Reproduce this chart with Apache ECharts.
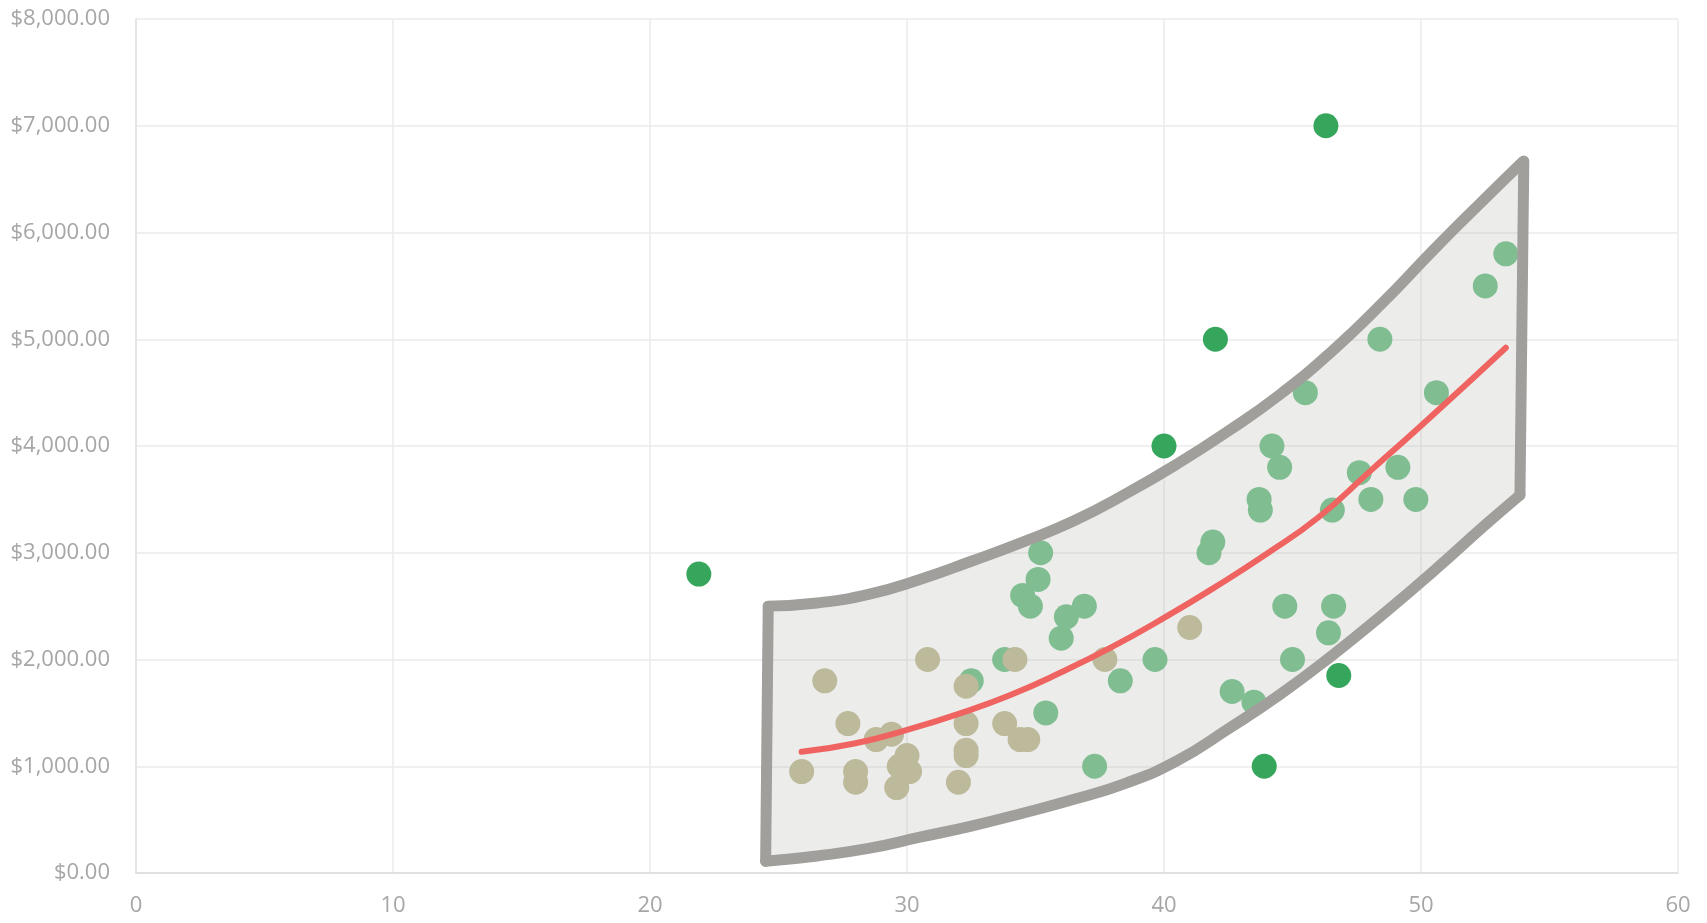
<!DOCTYPE html>
<html>
<head>
<meta charset="utf-8">
<script src="https://cdn.jsdelivr.net/npm/echarts@6/dist/echarts.min.js"></script>
<style>
html,body{margin:0;padding:0;background:#fff;}
#chart{width:1707px;height:923px;}
</style>
</head>
<body>
<div id="chart"></div>
<script>
// ---- data ----
const xTicks = [0, 10, 20, 30, 40, 50, 60];
const yTicks = [0, 1000, 2000, 3000, 4000, 5000, 6000, 7000, 8000];

const tanPoints = [
  [25.9,950],[26.8,1800],[27.7,1400],[28.0,950],[28.0,850],[28.8,1250],[29.4,1300],
  [30.0,1100],[29.7,1000],[30.1,950],[29.6,800],[30.8,2000],[32.0,850],[32.3,1750],
  [32.3,1400],[32.3,1150],[32.3,1100],[33.8,1400],[34.2,2000],[34.4,1250],[34.7,1250],
  [37.7,2000],[41.0,2300]
];
const lightGreenPoints = [
  [32.5,1800],[33.8,2000],[35.4,1500],[36.0,2200],[36.2,2400],[36.9,2500],[34.8,2500],
  [34.5,2600],[35.1,2750],[35.2,3000],[38.3,1800],[39.65,2000],[37.3,1000],[41.75,3000],
  [41.9,3100],[43.7,3500],[43.75,3400],[44.2,4000],[44.5,3800],[45.5,4500],[46.55,3400],
  [47.6,3750],[48.05,3500],[49.1,3800],[48.4,5000],[49.8,3500],[50.6,4500],[52.5,5500],
  [53.3,5800],[44.7,2500],[46.6,2500],[46.4,2250],[45.0,2000],[42.65,1700],[43.5,1600]
];
const darkGreenPoints = [
  [21.9,2800],[40.0,4000],[42.0,5000],[46.3,7000],[43.9,1000],[46.8,1850]
];
const trendLine = [
  [25.9,1135],[28,1215],[30,1340],[32,1490],[34,1665],[36,1880],[38,2120],[40,2390],
  [42,2680],[44,2990],[46,3330],[48,3760],[50,4190],[52,4630],[53.3,4920]
];
const upperBand = [
  [24.6,2500],[26.5,2530],[28.5,2610],[30.5,2750],[32.5,2920],[34.5,3100],[36.5,3300],
  [38.5,3550],[40.5,3830],[42.5,4140],[44.5,4480],[46.5,4880],[48.5,5340],[50.5,5840],
  [52.5,6320],[53.95,6660]
];
const rightEdge = [[54.0,6670],[53.85,3540]];
const lowerBand = [
  [24.5,110],[26.5,160],[28.5,230],[30.5,335],[32.5,440],[34.5,560],[36.5,690],
  [38.5,840],[40.5,1050],[42.5,1350],[44.5,1670],[46.5,2030],[48.5,2420],[50.5,2830],
  [52.5,3260],[53.85,3540]
];
const leftEdge = [[24.6,2500],[24.5,110]];

// ---- chart ----
const chart = echarts.init(document.getElementById('chart'));
const labelFont = { color:'#a6a6a6', fontSize:22, fontFamily:'Open Sans' };
const borderColor = '#a19f9b';

function fmtMoney(v){
  return '$' + v.toLocaleString('en-US',{minimumFractionDigits:2, maximumFractionDigits:2});
}

const option = {
  animation:false,
  grid:{ left:136, right:29, top:19, bottom:50 },
  xAxis:{
    type:'value', min:xTicks[0], max:xTicks[xTicks.length-1], interval:10,
    axisLine:{ show:true, lineStyle:{ color:'#dcdcdc', width:1.5 } },
    axisTick:{ show:false },
    splitLine:{ show:true, lineStyle:{ color:'#ebebeb', width:1.5 } },
    axisLabel:{ ...labelFont, margin:22 }
  },
  yAxis:{
    type:'value', min:yTicks[0], max:yTicks[yTicks.length-1], interval:1000,
    axisLine:{ show:true, lineStyle:{ color:'#e2e2e2', width:1.5 } },
    axisTick:{ show:false },
    splitLine:{ show:true, lineStyle:{ color:'#ebebeb', width:1.5 } },
    axisLabel:{ ...labelFont, margin:26, formatter:fmtMoney }
  },
  series:[
    {
      type:'custom', z:1, silent:true,
      data:[[0,0]],
      renderItem:function(params, api){
        const pts = [];
        upperBand.forEach(p=>pts.push(api.coord(p)));
        rightEdge.forEach(p=>pts.push(api.coord(p)));
        lowerBand.slice().reverse().forEach(p=>pts.push(api.coord(p)));
        leftEdge.forEach(p=>pts.push(api.coord(p)));
        return { type:'polygon', shape:{ points:pts }, style:{ fill:'rgba(161,159,154,0.2)', stroke:null } };
      }
    },
    { type:'scatter', z:2, symbolSize:25, data:lightGreenPoints, itemStyle:{ color:'#80be92', opacity:1 } },
    { type:'scatter', z:2, symbolSize:25, data:darkGreenPoints, itemStyle:{ color:'#37a65d', opacity:1 } },
    { type:'scatter', z:2, symbolSize:25, data:tanPoints, itemStyle:{ color:'#bdb99b', opacity:1 } },
    { type:'line', z:3, data:upperBand, smooth:true, symbol:'none', lineStyle:{ color:borderColor, width:11, cap:'round', join:'round' } },
    { type:'line', z:3, data:lowerBand, smooth:true, symbol:'none', lineStyle:{ color:borderColor, width:11, cap:'round', join:'round' } },
    { type:'line', z:3, data:leftEdge, symbol:'none', lineStyle:{ color:borderColor, width:11, cap:'round' } },
    { type:'line', z:3, data:rightEdge, symbol:'none', lineStyle:{ color:borderColor, width:11, cap:'round' } },
    { type:'line', z:4, data:trendLine, smooth:true, symbol:'none', lineStyle:{ color:'#ef6461', width:6, cap:'round' } }
  ]
};
chart.setOption(option);
</script>
</body>
</html>
